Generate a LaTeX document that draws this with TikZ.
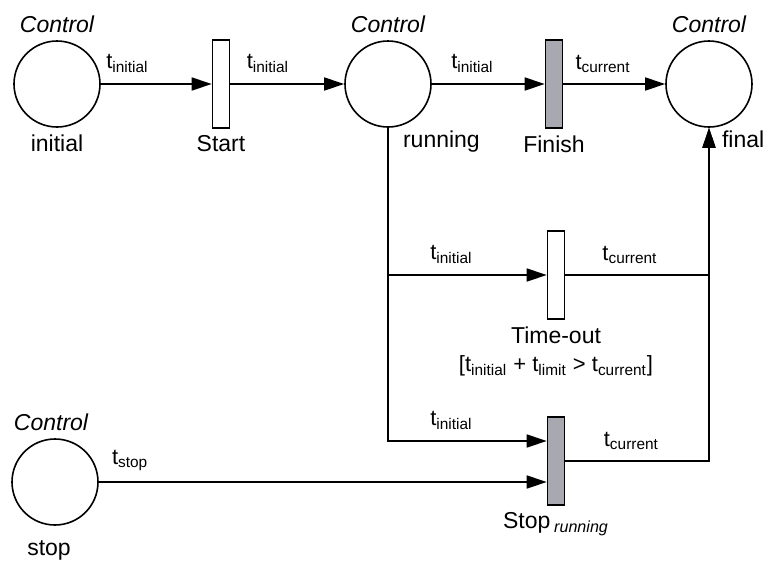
\documentclass[tikz,border=0pt]{standalone}
\usepackage{fontspec}
\setmainfont{Liberation Sans}
\usepackage{xcolor}
\usetikzlibrary{arrows.meta,positioning}
\definecolor{busygray}{RGB}{168,168,176}
\newcommand{\tvar}[1]{t\textsubscript{#1}}

\begin{document}
\begin{tikzpicture}[x=0.5pt,y=-0.5pt,
    place/.style={circle,draw,line width=0.8pt,minimum size=43pt,inner sep=0pt},
    trans/.style={rectangle,draw,line width=0.8pt,minimum width=8.5pt,minimum height=44pt,inner sep=0pt},
    busy/.style={trans,fill=busygray},
    arc/.style={line width=0.8pt,-{Triangle[length=10pt,width=6.5pt]}},
    tag/.style={font=\fontsize{11}{13}\selectfont,yshift=2pt},
    ctl/.style={font=\fontsize{11.5}{13}\selectfont\itshape},
    every label/.style={font=\fontsize{11.5}{13}\selectfont}]
        \useasboundingbox (0,0) rectangle (766,563);
        \node[place,label={[ctl]above:Control},label={below:initial}] (initial) at (57,84) {};
        \node[trans,label={below:Start}] (start) at (221,84) {};
        \node[place,label={[ctl]above:Control},label={[anchor=north west,xshift=4pt,yshift=2pt]south:running}] (running) at (388,84) {};
        \node[busy,label={below:Finish}] (finish) at (554,84) {};
        \node[place,label={[ctl]above:Control},label={[anchor=north west,xshift=3pt,yshift=2pt]south:final}] (final) at (709,84) {};
        \node[trans,label={[name=tolabel]below:Time-out}] (timeout) at (556,275) {};
        \node[font=\fontsize{11}{13}\selectfont,below=-1pt of tolabel] (guard) {[\tvar{initial} + \tvar{limit} > \tvar{current}]};
        \node[busy,label={below:Stop\,\textsubscript{\itshape running}}] (stoprun) at (556,461) {};
        \node[place,label={[ctl,xshift=-2pt]above:Control},label={[label distance=4pt,xshift=-3pt]below:stop}] (stop) at (55,482) {};

        \draw[arc] (initial) -- (start) node[tag,above,pos=0.24]{\tvar{initial}};
        \draw[arc] (start) -- (running) node[tag,above,pos=0.33]{\tvar{initial}};
        \draw[arc] (running) -- (finish) node[tag,above,pos=0.36]{\tvar{initial}};
        \draw[arc] (finish) -- (final) node[tag,above,pos=0.39]{\tvar{current}};
        \draw[arc] (running) |- (timeout) node[tag,above,pos=0.70]{\tvar{initial}};
        \draw[arc] (timeout) -| (final) node[tag,above,pos=0.225]{\tvar{current}};
        \draw[arc] (running) |- ([yshift=10pt]stoprun.west) node[tag,above,pos=0.70]{\tvar{initial}};
        \draw[arc] (stoprun) -| (final) node[tag,above,pos=0.23]{\tvar{current}};
        \draw[arc] (stop) -- (stop -| stoprun.west) node[tag,above,pos=0.07]{\tvar{stop}};
      \end{tikzpicture}
\end{document}
